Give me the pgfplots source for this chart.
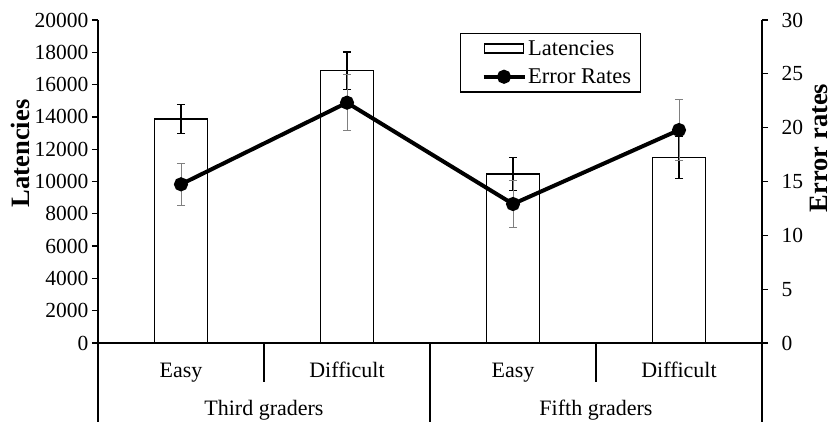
\documentclass[border=0pt]{standalone}
\usepackage{pgfplots}
\pgfplotsset{compat=1.18}
\usepackage{pgfplotstable}
\usepackage{fontspec}
\setmainfont{Liberation Serif}
\pgfplotstableread{
x y e
0.5 13870 900
1.5 16860 1150
2.5 10460 1020
3.5 11480 1290
}\lat
\pgfplotstableread{
x y e
0.5 14.74 1.95
1.5 22.32 2.60
2.5 12.91 2.20
3.5 19.78 2.80
}\err
\begin{document}
\begin{tikzpicture}
\path[use as bounding box] (-98pt,-80pt) rectangle (734pt,343pt);
\begin{axis}[
  scale only axis, width=664pt, height=323pt,
  xmin=0, xmax=4, ymin=0, ymax=20000,
  axis x line*=bottom, axis y line*=left,
  axis line style={line width=1.3pt, black},
  xtick=\empty,
  ytick={0,2000,...,20000},
  tick align=outside, major tick length=6pt,
  tick style={line width=1.3pt, black},
  /pgf/number format/assume math mode=true,
  /pgf/number format/1000 sep={},
  scaled y ticks=false,
  ticklabel style={font=\fontsize{21.5}{25}\selectfont},
  ylabel={\textbf{Latencies}},
  ylabel style={font=\fontsize{26.5}{30}\selectfont, at={(axis description cs:-0.1175,0.587)}, anchor=center},
  clip=false,
]
\addplot[ybar, bar width=53pt, fill=white, draw=black, line width=1.3pt,
  error bars/.cd, y dir=both, y explicit,
  error bar style={line width=1.3pt, black},
  error mark options={rotate=90, line width=1.3pt, black, mark size=4.2pt}]
  table[x=x, y=y, y error=e] {\lat};
% category separators
\draw[line width=1.3pt] (axis cs:0,0) -- ++(0,-79pt);
\draw[line width=1.3pt] (axis cs:1,0) -- ++(0,-39pt);
\draw[line width=1.3pt] (axis cs:2,0) -- ++(0,-79pt);
\draw[line width=1.3pt] (axis cs:3,0) -- ++(0,-39pt);
\draw[line width=1.3pt] (axis cs:4,0) -- ++(0,-79pt);
\node[anchor=base, font=\fontsize{22}{26}\selectfont, inner sep=0pt] at ([yshift=-34pt]axis cs:0.5,0) {Easy};
\node[anchor=base, font=\fontsize{22}{26}\selectfont, inner sep=0pt] at ([yshift=-34pt]axis cs:1.5,0) {Difficult};
\node[anchor=base, font=\fontsize{22}{26}\selectfont, inner sep=0pt] at ([yshift=-34pt]axis cs:2.5,0) {Easy};
\node[anchor=base, font=\fontsize{22}{26}\selectfont, inner sep=0pt] at ([yshift=-34pt]axis cs:3.5,0) {Difficult};
\node[anchor=base, font=\fontsize{22}{26}\selectfont, inner sep=0pt] at ([yshift=-72pt]axis cs:1,0) {Third graders};
\node[anchor=base, font=\fontsize{22}{26}\selectfont, inner sep=0pt] at ([yshift=-72pt]axis cs:3,0) {Fifth graders};
\end{axis}
\begin{axis}[
  scale only axis, width=664pt, height=323pt,
  xmin=0, xmax=4, ymin=0, ymax=30,
  axis x line=none, axis y line*=right,
  axis line style={line width=1.3pt, black},
  ytick={0,5,...,30},
  tick align=outside, major tick length=6pt,
  tick style={line width=1.3pt, black},
  /pgf/number format/assume math mode=true,
  ticklabel style={font=\fontsize{21.5}{25}\selectfont},
  yticklabel style={xshift=10pt},
  ylabel={\textbf{Error rates}},
  ylabel style={font=\fontsize{26.5}{30}\selectfont, inner sep=0pt, at={(axis description cs:1.0855,0.604)}, anchor=center},
  clip=false,
  legend style={at={(0.545,0.961)}, anchor=north west, draw=black, line width=1.3pt,
    font=\fontsize{22.5}{26}\selectfont, inner xsep=8pt, inner ysep=5pt, row sep=8pt,
    nodes={inner xsep=1.5pt},
    cells={anchor=west}},
]
\addlegendimage{legend image code/.code={\path (-14pt,0pt); \draw[black, line width=1.3pt, fill=white] (0pt,-4.5pt) rectangle (39pt,4.5pt);}}
\addlegendentry{Latencies}
\addplot[black, line width=4pt, mark=*, mark size=5pt,
  legend image code/.code={\path (-14pt,0pt); \draw[black, line width=4pt] (-1pt,0pt) -- (40pt,0pt); \fill[black] (19.5pt,0pt) circle (5pt);},
  error bars/.cd, y dir=both, y explicit,
  error bar style={line width=0.9pt, gray},
  error mark options={rotate=90, line width=0.9pt, gray, mark size=4.2pt}]
  table[x=x, y=y, y error=e] {\err};
\addlegendentry{Error Rates}
\end{axis}
\end{tikzpicture}
\end{document}
